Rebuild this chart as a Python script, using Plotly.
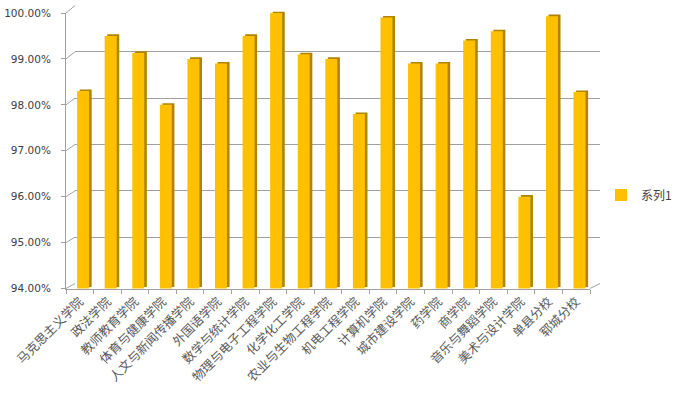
import plotly.graph_objects as go

categories = ["马克思主义学院", "政法学院", "教师教育学院", "体育与健康学院", "人文与新闻传播学院",
              "外国语学院", "数学与统计学院", "物理与电子工程学院", "化学化工学院", "农业与生物工程学院",
              "机电工程学院", "计算机学院", "城市建设学院", "药学院", "商学院",
              "音乐与舞蹈学院", "美术与设计学院", "单县分校", "郓城分校"]
values = [98.3, 99.5, 99.13, 98.0, 99.0, 98.9, 99.5, 100.0, 99.1, 99.0,
          97.8, 99.9, 98.9, 98.9, 99.4, 99.6, 96.0, 99.93, 98.28]
tick_vals = [94, 95, 96, 97, 98, 99, 100]
tick_text = ["94.00%", "95.00%", "96.00%", "97.00%", "98.00%", "99.00%", "100.00%"]
series_name = "系列1"

W, H = 675, 403
L, R, T, B = 66, 75, 5, 114
PW = W - L - R
PH = H - T - B

def px_x(x):
    return (x - L) / PW

def px_y(y):
    return (H - B - y) / PH

# front plane
fx = [px_x(66), px_x(590)]
fy = [px_y(288.5), px_y(13)]
# back wall
bx = [px_x(75), px_x(600)]
by = [px_y(283.5), px_y(5.5)]
# bar side depth
dx, dy = 2.6, 1.6
sx = [px_x(66 + dx), px_x(590 + dx)]
sy = [px_y(288.5 - dy), px_y(13 - dy)]

yr = [94, 100]
xr = [-0.5, len(categories) - 0.5]
bw = 0.435
boff = -bw / 2 + 3.3 / 27.58

fig = go.Figure()
fig.add_trace(go.Bar(x=categories, y=values, xaxis="x", yaxis="y", opacity=0,
                     showlegend=False, hoverinfo="skip"))
fig.add_trace(go.Bar(x=categories, y=values, xaxis="x2", yaxis="y2", width=bw, offset=boff,
                     marker=dict(color="#B08400", line=dict(width=0)),
                     showlegend=False, hoverinfo="skip"))
fig.add_trace(go.Bar(x=categories, y=values, xaxis="x3", yaxis="y3", width=bw, offset=boff,
                     name=series_name,
                     marker=dict(color="#FFC000", line=dict(width=0))))

hidden = dict(visible=True, showgrid=False, showline=False, showticklabels=False,
              ticks="", zeroline=False, automargin=False)
fig.update_layout(
    width=W, height=H,
    margin=dict(l=L, r=R, t=T, b=B, autoexpand=False),
    paper_bgcolor="white", plot_bgcolor="rgba(0,0,0,0)",
    barmode="overlay",
    xaxis=dict(domain=bx, range=xr, type="category", anchor="y", **hidden),
    yaxis=dict(domain=by, range=yr, anchor="x", visible=True, showgrid=True,
               gridcolor="#a0a0a0", gridwidth=1, tickvals=tick_vals, automargin=False,
               showline=False, showticklabels=False, ticks="", zeroline=False),
    xaxis2=dict(domain=sx, range=xr, type="category", anchor="y2", **hidden),
    yaxis2=dict(domain=sy, range=yr, anchor="x2", **hidden),
    xaxis3=dict(domain=fx, range=xr, type="category", anchor="y3", automargin=False,
                showgrid=False, showline=True, linecolor="#a0a0a0", linewidth=1,
                ticks="outside", ticklen=4, tickcolor="#a0a0a0", tickson="boundaries",
                tickangle=-45,
                tickfont=dict(family="Noto Sans CJK SC", size=12.5, color="#595959")),
    yaxis3=dict(domain=fy, range=yr, anchor="x3", tickvals=tick_vals, ticktext=tick_text,
                automargin=False,
                showgrid=False, showline=True, linecolor="#a0a0a0", linewidth=1,
                ticks="outside", ticklen=4, tickcolor="#a0a0a0", zeroline=False,
                ticklabelstandoff=8,
                tickfont=dict(family="DejaVu Sans", size=10.5, color="#404040")),
    legend=dict(x=px_x(601), y=px_y(195), xanchor="left", yanchor="middle",
                font=dict(family="Noto Sans CJK SC", size=12, color="#404040"),
                bgcolor="rgba(0,0,0,0)", itemwidth=30),
    showlegend=True,
)

shapes = []
for v in tick_vals:
    yf = fy[0] + (v - yr[0]) / (yr[1] - yr[0]) * (fy[1] - fy[0])
    yb = by[0] + (v - yr[0]) / (yr[1] - yr[0]) * (by[1] - by[0])
    shapes.append(dict(type="line", xref="paper", yref="paper", x0=fx[0], y0=yf,
                       x1=bx[0], y1=yb, line=dict(color="#a0a0a0", width=1)))
shapes.append(dict(type="line", xref="paper", yref="paper", x0=fx[1], y0=fy[0],
                   x1=bx[1], y1=by[0], line=dict(color="#a0a0a0", width=1)))
fig.update_layout(shapes=shapes)

fig.write_html("out.html", config={"displayModeBar": False},
               post_script="document.body.style.margin='0';document.body.style.overflow='hidden';")
